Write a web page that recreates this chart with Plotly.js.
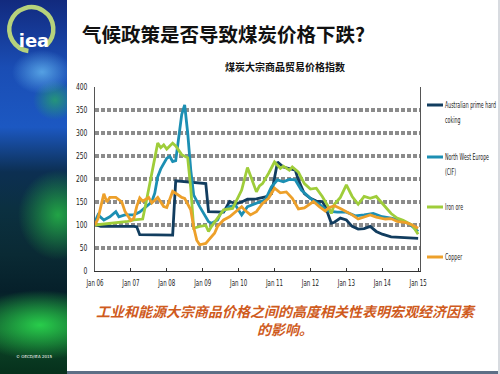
<!DOCTYPE html>
<html><head><meta charset="utf-8">
<script src="https://cdn.plot.ly/plotly-3.0.1.min.js"></script>
<style>
html,body{margin:0;padding:0;background:#fff;}
#wrap{position:relative;width:500px;height:374px;overflow:hidden;background:#fff;}
#side{position:absolute;left:0;top:0;width:67px;height:374px;background:
 radial-gradient(ellipse 30px 22px at 42px 72px, rgba(95,175,235,0.85), rgba(95,175,235,0)),
 radial-gradient(ellipse 22px 20px at 55px 100px, rgba(40,170,100,0.75), rgba(40,170,100,0)),
 radial-gradient(ellipse 40px 45px at 58px 215px, rgba(35,170,70,0.95), rgba(35,170,70,0)),
 radial-gradient(ellipse 70px 35px at 40px 325px, rgba(40,205,75,1), rgba(40,205,75,0)),
 linear-gradient(to bottom,#122a7e 0%,#1a4db4 18%,#1c58c2 34%,#0c2f52 46%,#0b3040 56%,#0a2a34 68%,#06202a 78%,#0e4a2a 88%,#06301c 100%);}
#logo{position:absolute;left:0;top:0;width:67px;height:60px;}
#bottom{position:absolute;left:67px;top:371px;width:433px;height:3px;background:#5d6f86;}
#redge{position:absolute;left:498px;top:0;width:2px;height:374px;background:#d8dbe0;}
#chart{position:absolute;left:0;top:0;width:500px;height:374px;}
</style></head>
<body><div id="wrap">
<div id="side"></div>
<svg id="logo" viewBox="0 0 67 60">
<path d="M 46.5 45.1 A 22 22 0 1 0 28.4 51" stroke="#b6d27c" stroke-width="4.5" fill="none"/>
<text x="34" y="47" text-anchor="middle" font-family="DejaVu Sans" font-weight="bold" font-size="18" fill="#ffffff">iea</text>
</svg>
<div id="bottom"></div><div id="redge"></div>
<div id="chart"></div>
</div>
<script>
// Australian prime hard coking
const ausDates = ['2006-01','2006-03','2007-02','2007-03','2007-04','2008-03','2008-04','2008-08','2009-02','2009-03','2009-08','2009-10','2009-12','2010-02','2010-04','2010-07','2010-10','2010-12','2011-02','2011-04','2011-06','2011-08','2011-09','2011-11','2012-01','2012-03','2012-05','2012-06','2012-08','2012-09','2012-11','2013-01','2013-03','2013-05','2013-07','2013-09','2013-11','2014-01','2014-04','2014-08','2015-01'];
const ausVals  = [101,97,97,96,79,78,196,194,190,129,128,151,146,150,156,157,161,168,237,226,223,219,198,168,158,152,151,140,104,106,115,111,97,91,92,97,86,80,74,72,71];
// North West Europe (CIF)
const nweDates = ['2006-01','2006-02','2006-04','2006-06','2006-08','2006-09','2006-11','2007-02','2007-04','2007-06','2007-08','2007-09','2007-10','2007-11','2008-01','2008-02','2008-03','2008-04','2008-05','2008-06','2008-07','2008-08','2008-09','2008-10','2008-12','2009-02','2009-03','2009-04','2009-06','2009-07','2009-10','2009-12','2010-02','2010-04','2010-07','2010-10','2010-12','2011-02','2011-04','2011-06','2011-08','2011-10','2012-01','2012-04','2012-07','2012-10','2013-01','2013-04','2013-07','2013-10','2014-01','2014-04','2014-07','2014-10','2015-01'];
const nweVals  = [107,122,111,118,129,118,122,122,128,140,150,169,205,222,245,249,238,240,285,340,361,300,220,165,140,115,107,104,111,125,140,143,122,140,148,155,183,198,194,199,198,176,158,145,130,128,128,120,122,125,118,115,110,103,86];
// Iron ore
const oreDates = ['2006-01','2006-06','2006-12','2007-02','2007-04','2007-05','2007-06','2007-08','2007-09','2007-10','2007-11','2007-12','2008-01','2008-03','2008-04','2008-06','2008-08','2008-09','2008-10','2008-12','2009-02','2009-03','2009-04','2009-06','2009-08','2009-11','2010-01','2010-02','2010-04','2010-06','2010-07','2010-08','2010-09','2010-11','2011-01','2011-03','2011-04','2011-06','2011-07','2011-09','2011-11','2012-01','2012-03','2012-05','2012-07','2012-08','2012-09','2012-11','2013-01','2013-03','2013-05','2013-07','2013-09','2013-11','2014-02','2014-04','2014-06','2014-08','2014-11','2015-01'];
const oreVals  = [100,103,108,111,113,113,145,210,250,278,268,274,265,278,272,253,246,180,93,97,99,86,97,114,133,136,165,176,225,188,172,185,190,212,237,223,228,219,226,215,190,178,180,162,140,125,145,160,187,162,145,162,158,162,140,125,115,110,100,80];
// Copper
const cuDates = ['2006-01','2006-02','2006-03','2006-04','2006-05','2006-06','2006-08','2006-10','2006-11','2007-01','2007-02','2007-03','2007-04','2007-05','2007-07','2007-08','2007-10','2007-12','2008-01','2008-03','2008-04','2008-06','2008-07','2008-09','2008-10','2008-11','2008-12','2009-02','2009-03','2009-05','2009-06','2009-08','2009-10','2009-12','2010-02','2010-03','2010-05','2010-07','2010-09','2010-11','2011-01','2011-03','2011-05','2011-07','2011-09','2011-11','2012-01','2012-02','2012-04','2012-06','2012-07','2012-09','2012-11','2013-01','2013-03','2013-05','2013-07','2013-09','2013-11','2014-02','2014-04','2014-06','2014-09','2014-11','2015-01'];
const cuVals  = [100,114,140,168,150,160,160,150,130,110,115,140,159,152,160,148,160,140,138,173,169,160,158,133,95,67,57,60,67,82,97,111,118,129,140,133,122,129,147,158,180,170,172,158,135,137,147,151,140,130,137,142,136,129,122,113,118,122,117,113,114,108,105,100,93];

const seriesNames = ['Australian prime hard coking','North West Europe (CIF)','Iron ore','Copper'];
const legendLines = [['Australian prime hard','coking'],['North West Europe','(CIF)'],['Iron ore'],['Copper']];
const seriesColors = ['#123d5f','#1c8fb3','#9fcd3a','#eda02a'];
const yTicks = [0,50,100,150,200,250,300,350,400];

const xs = [ausDates,nweDates,oreDates,cuDates];
const ys = [ausVals,nweVals,oreVals,cuVals];
const traces = xs.map((x,i)=>({x:x.map(d=>d+'-01'), y:ys[i], type:'scatter', mode:'lines', name:seriesNames[i],
  line:{color:seriesColors[i], width:2.8}, showlegend:false}));

// plot area in px: x 95..420, y 87..271
const L=95,R=420,T=87,B=271;
const px=(p)=>(p-L)/(R-L), py=(p)=>(B-p)/(B-T);
const narrow='DejaVu Sans, sans-serif';
const ann=[];
ann.push({text:'气候政策是否导致煤炭价格下跌?',xref:'paper',yref:'paper',x:px(80),y:py(33),xanchor:'left',yanchor:'middle',showarrow:false,
  font:{family:'Noto Sans CJK SC',size:19.5,color:'#111',weight:'bold'}});
ann.push({text:'工业和能源大宗商品价格之间的高度相关性表明宏观经济因素<br>的影响。',xref:'paper',yref:'paper',x:px(286),y:py(319.5),xanchor:'center',yanchor:'middle',align:'center',showarrow:false,
  font:{family:'Noto Sans CJK SC',size:14,color:'#cf5b1d',style:'italic',weight:'bold'}});
ann.push({text:'© OECD/IEA 2015',xref:'paper',yref:'paper',x:px(34),y:py(356),xanchor:'center',yanchor:'middle',showarrow:false,
  font:{family:narrow,size:4,color:'#ffffff'}});
const firstLegendAnn = ann.length;
// custom legend
const legY=[105,157,207,257];
const shapes=[];
legendLines.forEach((lines,i)=>{
  shapes.push({type:'line',xref:'paper',yref:'paper',x0:px(427),x1:px(443),y0:py(legY[i]),y1:py(legY[i]),line:{color:seriesColors[i],width:3}});
  lines.forEach((t,j)=>{
    ann.push({text:t,xref:'paper',yref:'paper',x:px(443),y:py(legY[i]+j*15),xanchor:'left',yanchor:'middle',showarrow:false,
      font:{family:narrow,size:8.5,color:'#222'}});
  });
});

const layout={
  width:500,height:374,margin:{l:L,r:500-R,t:T,b:374-B},
  paper_bgcolor:'rgba(0,0,0,0)',plot_bgcolor:'rgba(0,0,0,0)',
  title:{text:'煤炭大宗商品贸易价格指数',x:0.57,y:1-67/374,xanchor:'center',yanchor:'middle',
    font:{family:'Noto Sans CJK SC',size:10,color:'#111',weight:'bold'}},
  xaxis:{type:'date',range:['2006-01-01','2015-01-20'],tick0:'2006-01-01',dtick:'M12',tickformat:'%b %y',
    showgrid:false,zeroline:false,showline:true,linecolor:'#333',linewidth:1,ticks:'inside',ticklen:3,tickcolor:'#333',
    ticklabelstandoff:4,tickfont:{family:narrow,size:8,color:'#222'}},
  yaxis:{range:[0,400],tickvals:yTicks,ticktext:yTicks.map(String),showgrid:true,gridcolor:'#8c8c8c',gridwidth:4,griddash:'4px,2px',
    zeroline:false,showline:true,mirror:true,linecolor:'#555',linewidth:1,ticks:'',ticklabelstandoff:5,
    tickfont:{family:narrow,size:8,color:'#222'}},
  annotations:ann,shapes:shapes
};
// condense a text element horizontally (the reference uses a condensed face)
function condense(t,k,keepLeft){
  const bb=t.getBBox();
  const w=bb.width*k;
  if(keepLeft){t.setAttribute('text-anchor','start');t.style.textAnchor='start';t.setAttribute('x',bb.x);}
  t.setAttribute('textLength',w.toFixed(2));
  t.setAttribute('lengthAdjust','spacingAndGlyphs');
  return {x:bb.x,w:w};
}
Plotly.newPlot('chart',traces,layout,{displayModeBar:false,staticPlot:true}).then(()=>{
  document.querySelectorAll('#chart .xtick text').forEach(t=>condense(t,0.66,false));
  document.querySelectorAll('#chart .ytick text').forEach(t=>condense(t,0.75,false));
  document.querySelectorAll('#chart .annotation').forEach(g=>{
    const idx=+g.getAttribute('data-index');
    if(idx>=firstLegendAnn){
      const t=g.querySelector('text');
      if(t){
        const rb=g.querySelectorAll('rect');
        const bx=condense(t,0.55,true);
        rb.forEach(r=>{r.setAttribute('width',bx.w.toFixed(2));});
      }
    }
  });
});
</script></body></html>
